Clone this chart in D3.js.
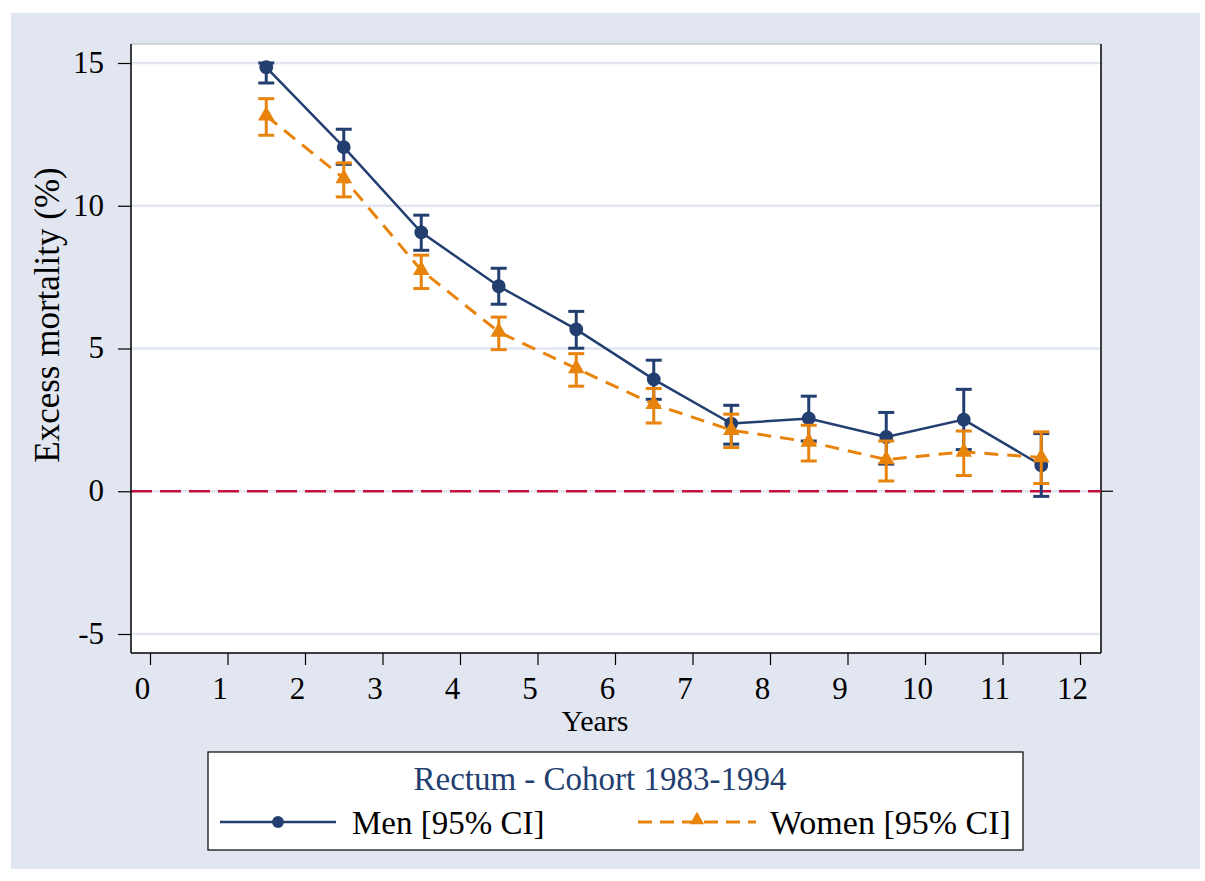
<!DOCTYPE html>
<html lang="en">
<head>
    <meta charset="UTF-8">
    <title>Rectum - Cohort 1983-1994</title>
    <script src="https://cdn.jsdelivr.net/npm/d3@7"></script>
    <style>
        body { margin: 0; background: #fff; }
        text { font-family: "Liberation Serif", "DejaVu Serif", serif; }
    </style>
</head>
<body>
<script>
    // data
    var years = [1.5, 2.5, 3.5, 4.5, 5.5, 6.5, 7.5, 8.5, 9.5, 10.5, 11.5];
    var men = [14.85, 12.05, 9.07, 7.18, 5.67, 3.92, 2.37, 2.55, 1.90, 2.51, 0.91];
    var menLo = [14.30, 11.45, 8.44, 6.55, 5.01, 3.22, 1.65, 1.76, 0.95, 1.46, -0.18];
    var menHi = [15.00, 12.68, 9.67, 7.81, 6.30, 4.59, 3.01, 3.33, 2.76, 3.57, 2.02];
    var women = [13.15, 10.96, 7.74, 5.58, 4.30, 3.05, 2.14, 1.73, 1.11, 1.38, 1.18];
    var womenLo = [12.47, 10.31, 7.10, 4.96, 3.68, 2.39, 1.53, 1.06, 0.36, 0.55, 0.27];
    var womenHi = [13.75, 11.50, 8.27, 6.10, 4.82, 3.60, 2.70, 2.31, 1.76, 2.11, 2.08];
    var xTicks = [0, 1, 2, 3, 4, 5, 6, 7, 8, 9, 10, 11, 12];
    var yTicks = [-5, 0, 5, 10, 15];

    var width = 1205, height = 881;
    var navy = "#233f70", orange = "#e8830c", crimson = "#c8103e", bg = "#e1e6f0";

    var svg = d3.select("body").append("svg")
        .attr("width", width)
        .attr("height", height);

    // outer background
    svg.append("rect").attr("x", 11).attr("y", 13)
        .attr("width", 1189).attr("height", 856).attr("fill", bg);

    // plot region (pL/pR/pT/pB: "top" is taken by window.top)
    var pL = 131, pR = 1101, pT = 44, pB = 653;
    svg.append("rect").attr("x", pL).attr("y", pT)
        .attr("width", pR - pL).attr("height", pB - pT).attr("fill", "#fff");

    var x = d3.scaleLinear().domain([0, 12]).range([150, 1080]);
    var y = d3.scaleLinear().domain([-5, 15]).range([634, 63]);

    // gridlines
    svg.selectAll(".grid").data(yTicks).enter().append("line")
        .attr("x1", pL).attr("x2", pR)
        .attr("y1", function (d) { return y(d); })
        .attr("y2", function (d) { return y(d); })
        .attr("stroke", bg).attr("stroke-width", 2.5);

    // frame
    svg.append("line").attr("x1", pL).attr("x2", pR).attr("y1", pT).attr("y2", pT)
        .attr("stroke", "#c8c8c8").attr("stroke-width", 1.5);
    svg.append("line").attr("x1", pR).attr("x2", pR).attr("y1", pT).attr("y2", pB)
        .attr("stroke", "#000").attr("stroke-width", 1.5);
    // small tick at 0 on the right
    svg.append("line").attr("x1", pR).attr("x2", pR + 12).attr("y1", y(0)).attr("y2", y(0))
        .attr("stroke", "#000").attr("stroke-width", 1.2);

    // zero reference line
    svg.append("line").attr("x1", pL).attr("x2", pR)
        .attr("y1", y(0)).attr("y2", y(0))
        .attr("stroke", crimson).attr("stroke-width", 2.5)
        .attr("stroke-dasharray", "21,8");

    // axes
    var xAxis = svg.append("g").attr("transform", "translate(0," + pB + ")")
        .call(d3.axisBottom(x).tickValues(xTicks).tickSize(12).tickSizeOuter(0).tickPadding(12)
            .tickFormat(function (d) { return String(d); }));
    xAxis.select(".domain").attr("d", "M" + pL + ",0H" + pR).attr("stroke-width", 1.5);
    xAxis.selectAll(".tick line").attr("stroke-width", 1.2);
    xAxis.selectAll(".tick text").attr("font-size", 31).attr("dx", -8)
        .attr("fill", "#000").style("font-family", "Liberation Serif");

    var yAxis = svg.append("g").attr("transform", "translate(" + pL + ",0)")
        .call(d3.axisLeft(y).tickValues(yTicks).tickSize(13).tickSizeOuter(0).tickPadding(14)
            .tickFormat(function (d) { return String(d); }));
    yAxis.select(".domain").attr("d", "M0," + pT + "V" + pB).attr("stroke-width", 1.5);
    yAxis.selectAll(".tick line").attr("stroke-width", 1.2);
    yAxis.selectAll(".tick text").attr("font-size", 31).attr("dy", "0.3em")
        .attr("fill", "#000").style("font-family", "Liberation Serif");

    svg.append("text").attr("x", 595).attr("y", 731).attr("text-anchor", "middle")
        .attr("font-size", 30).text("Years");
    svg.append("text").attr("transform", "translate(59,315) rotate(-90)")
        .attr("text-anchor", "middle").attr("font-size", 35).text("Excess mortality (%)");

    // series
    function drawSeries(vals, lo, hi, color, dash, shape) {
        var g = svg.append("g");
        var line = d3.line()
            .x(function (d, i) { return x(years[i]); })
            .y(function (d) { return y(d); });
        g.append("path").datum(vals).attr("d", line)
            .attr("fill", "none").attr("stroke", color)
            .attr("stroke-width", dash ? 3 : 2.5)
            .attr("stroke-dasharray", dash);

        var bars = g.selectAll(".bar").data(vals).enter().append("g");
        bars.append("line")
            .attr("x1", function (d, i) { return x(years[i]); })
            .attr("x2", function (d, i) { return x(years[i]); })
            .attr("y1", function (d, i) { return y(lo[i]); })
            .attr("y2", function (d, i) { return y(hi[i]); })
            .attr("stroke", color).attr("stroke-width", 3);
        [lo, hi].forEach(function (arr) {
            bars.append("line")
                .attr("x1", function (d, i) { return x(years[i]) - 8; })
                .attr("x2", function (d, i) { return x(years[i]) + 8; })
                .attr("y1", function (d, i) { return y(arr[i]); })
                .attr("y2", function (d, i) { return y(arr[i]); })
                .attr("stroke", color).attr("stroke-width", 3);
        });

        g.selectAll(".pt").data(vals).enter().append("path")
            .attr("transform", function (d, i) { return "translate(" + x(years[i]) + "," + y(d) + ")"; })
            .attr("d", d3.symbol().type(shape).size(shape === d3.symbolCircle ? 150 : 120))
            .attr("fill", color);
    }
    drawSeries(men, menLo, menHi, navy, null, d3.symbolCircle);
    drawSeries(women, womenLo, womenHi, orange, "14,9", d3.symbolTriangle);

    // legend
    var lg = svg.append("g");
    lg.append("rect").attr("x", 208).attr("y", 752).attr("width", 815).attr("height", 98)
        .attr("fill", "#fff").attr("stroke", "#000").attr("stroke-width", 1.2);
    lg.append("text").attr("x", 600).attr("y", 790).attr("text-anchor", "middle")
        .attr("font-size", 33).attr("fill", navy).text("Rectum - Cohort 1983-1994");

    lg.append("line").attr("x1", 220).attr("x2", 336).attr("y1", 822).attr("y2", 822)
        .attr("stroke", navy).attr("stroke-width", 2.5);
    lg.append("path").attr("transform", "translate(278,822)")
        .attr("d", d3.symbol().type(d3.symbolCircle).size(110)).attr("fill", navy);
    lg.append("text").attr("x", 352).attr("y", 834).attr("font-size", 33).text("Men [95% CI]");

    lg.append("line").attr("x1", 638).attr("x2", 756).attr("y1", 822).attr("y2", 822)
        .attr("stroke", orange).attr("stroke-width", 3).attr("stroke-dasharray", "14,8");
    lg.append("path").attr("transform", "translate(697,820)")
        .attr("d", d3.symbol().type(d3.symbolTriangle).size(90)).attr("fill", orange);
    lg.append("text").attr("x", 770).attr("y", 834).attr("font-size", 34).text("Women [95% CI]");
</script>
</body>
</html>
